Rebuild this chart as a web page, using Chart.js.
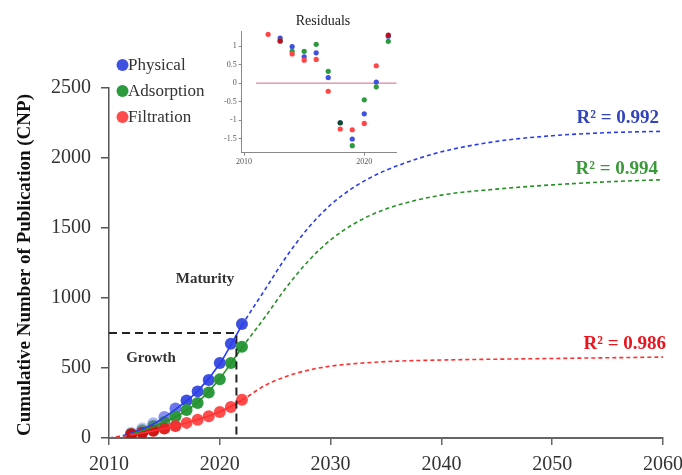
<!DOCTYPE html>
<html>
<head>
<meta charset="utf-8">
<script src="https://cdn.jsdelivr.net/npm/chart.js@4"></script>
<style>
  body { margin: 0; background: #fff; }
  #main { position: absolute; left: 0; top: 0; width: 682px; height: 475px; }
  #inset { position: absolute; left: 222px; top: 0; width: 185px; height: 170px; }
</style>
</head>
<body>
<div id="main"><canvas id="myChart"></canvas></div>
<div id="inset"><canvas id="myChart2"></canvas></div>
<script>
// observed data
const years = [2012, 2013, 2014, 2015, 2016, 2017, 2018, 2019, 2020, 2021, 2022];
const physical = [40, 70, 105, 150, 210, 268, 333, 415, 536, 673, 814];
const adsorption = [30, 55, 85, 115, 155, 200, 250, 325, 420, 535, 652];
const filtration = [26, 38, 52, 68, 86, 108, 130, 155, 186, 222, 273];

// fitted curves
const fitYears = [2010, 2011, 2012, 2014, 2016, 2018, 2020, 2022, 2024, 2026, 2028, 2030, 2032, 2034, 2036, 2040, 2045, 2050, 2055, 2060];
const physicalFit = [0, 12, 35, 100, 205, 335, 530, 805, 1050, 1294, 1502, 1666, 1786, 1876, 1944, 2044, 2119, 2159, 2181, 2191];
const adsorptionFit = [0, 8, 26, 80, 150, 255, 425, 645, 855, 1075, 1265, 1415, 1525, 1605, 1662, 1735, 1778, 1808, 1830, 1845];
const filtrationFit = [0, 10, 22, 50, 86, 132, 188, 270, 372, 440, 485, 513, 530, 541, 549, 557, 563, 568, 573, 578];

// growth / maturity box
const boxX = [2010, 2021.5, 2021.5];
const boxY = [750, 750, 0];

// tick labels
const xTicks = [2010, 2020, 2030, 2040, 2050, 2060];
const yTicks = [0, 500, 1000, 1500, 2000, 2500];

// residuals inset
const resYears = [2012, 2013, 2014, 2015, 2016, 2017, 2018, 2019, 2020, 2021, 2022];
const resPhysical = [null, 1.22, 0.99, 0.71, 0.82, 0.15, -1.07, -1.51, -0.83, 0.03, 1.27];
const resAdsorption = [null, 1.14, 0.86, 0.86, 1.05, 0.32, -1.07, -1.69, -0.45, -0.10, 1.13];
const resFiltration = [1.32, 1.14, 0.79, 0.62, 0.64, -0.22, -1.24, -1.26, -1.09, 0.47, 1.30];
const resXTicks = [2010, 2020];
const resYTicks = [-1.5, -1, -0.5, 0, 0.5, 1];

const serif = '"Liberation Serif", "Times New Roman", serif';
const toXY = (xs, ys) => xs.map((x, i) => ({ x: x, y: ys[i] }));
const dashOutside = (ctx) => (ctx.p0.parsed.x >= 2022 || ctx.p1.parsed.x <= 2012) ? [4, 3] : undefined;

function fitLine(label, ys, color, order) {
  return {
    label: label,
    data: toXY(fitYears, ys),
    showLine: true,
    borderColor: color,
    borderWidth: 1.6,
    pointRadius: 0,
    cubicInterpolationMode: 'monotone',
    segment: { borderDash: dashOutside },
    order: order,
  };
}

function pointSet(label, ys, colors, order) {
  return {
    label: label,
    data: toXY(years, ys),
    backgroundColor: colors,
    borderWidth: 0,
    pointRadius: 6,
    order: order,
  };
}

const bluePts = ['rgba(110,120,240,0.35)', 'rgba(110,120,240,0.4)', 'rgba(90,105,235,0.5)', 'rgba(70,85,230,0.65)', 'rgba(70,85,230,0.8)',
  '#3f51e0', '#3f51e0', '#3f51e0', '#3f51e0', '#3f51e0', '#3f51e0'];
const greenPts = ['rgba(30,110,60,0.55)', 'rgba(30,110,60,0.6)', 'rgba(35,120,60,0.7)', 'rgba(40,130,60,0.8)', '#2e9a40',
  '#2e9a40', '#2e9a40', '#2e9a40', '#2e9a40', '#2e9a40', '#2e9a40'];
const redPts = ['#c41010', '#c81414', '#d01818', '#e02424', '#ee3434',
  '#ff4d4d', '#ff4d4d', '#ff4d4d', '#ff4d4d', '#ff4d4d', '#ff4d4d'];

const mainText = {
  id: 'mainText',
  afterDraw(chart) {
    const c = chart.ctx;
    c.save();
    // y title
    c.translate(25, 265);
    c.rotate(-Math.PI / 2);
    c.font = 'bold 19px ' + serif;
    c.fillStyle = '#111';
    c.textAlign = 'center';
    c.textBaseline = 'middle';
    c.fillText('Cumulative Number of Publication (CNP)', 0, 0);
    c.restore();

    c.save();
    // legend
    const leg = [['Physical', '#3f51e0', 65], ['Adsorption', '#2e9a40', 91], ['Filtration', '#ff4d4d', 117]];
    c.font = '17px ' + serif;
    c.textBaseline = 'middle';
    leg.forEach(l => {
      c.fillStyle = l[1];
      c.beginPath();
      c.arc(122.5, l[2], 6, 0, Math.PI * 2);
      c.fill();
      c.fillStyle = '#333';
      c.fillText(l[0], 128, l[2] + 1);
    });

    // phase labels
    c.fillStyle = '#333';
    c.textAlign = 'center';
    c.font = 'bold 15px ' + serif;
    c.fillText('Maturity', 205, 279);
    c.fillText('Growth', 151, 358);

    // R2 labels
    c.textAlign = 'right';
    c.font = 'bold 19px ' + serif;
    c.fillStyle = '#3344bb';
    c.fillText('R² = 0.992', 659, 118);
    c.fillStyle = '#3a9a3a';
    c.fillText('R² = 0.994', 658, 169);
    c.fillStyle = '#e8141e';
    c.fillText('R² = 0.986', 666, 344);
    c.restore();
  }
};

new Chart(document.getElementById('myChart'), {
  type: 'scatter',
  data: {
    datasets: [
      {
        label: 'box',
        data: toXY(boxX, boxY),
        showLine: true,
        borderColor: '#222',
        borderWidth: 2,
        borderDash: [8, 5],
        pointRadius: 0,
        order: 0,
      },
      fitLine('Filtration fit', filtrationFit, '#ff3030', 1),
      fitLine('Adsorption fit', adsorptionFit, '#279027', 2),
      fitLine('Physical fit', physicalFit, '#2a3cf0', 3),
      pointSet('Filtration', filtration, redPts, 4),
      pointSet('Adsorption', adsorption, greenPts, 5),
      pointSet('Physical', physical, bluePts, 6),
    ],
  },
  options: {
    responsive: true,
    maintainAspectRatio: false,
    animation: false,
    layout: { padding: { top: 88, right: 19, left: 0, bottom: 0 } },
    plugins: {
      legend: { display: false },
      tooltip: { enabled: false },
    },
    scales: {
      x: {
        type: 'linear',
        min: 2010,
        max: 2060,
        afterBuildTicks: (s) => { s.ticks = xTicks.map(v => ({ value: v })); },
        afterFit: (s) => { s.height = 37; s.paddingRight = 0; s.paddingLeft = 0; },
        ticks: { callback: (v) => String(v), font: { family: serif, size: 20 }, color: '#333', padding: 8, maxRotation: 0 },
        grid: { drawOnChartArea: false, tickLength: 7, color: '#666', lineWidth: 1.5 },
        border: { color: '#666', width: 2 },
      },
      y: {
        min: 0,
        max: 2500,
        afterBuildTicks: (s) => { s.ticks = yTicks.map(v => ({ value: v })); },
        afterFit: (s) => { s.width = 109; },
        ticks: { callback: (v) => String(v), font: { family: serif, size: 20 }, color: '#333', padding: 10 },
        grid: { drawOnChartArea: false, tickLength: 8, color: '#555', lineWidth: 1.5 },
        border: { color: '#555', width: 1.5 },
      },
    },
  },
  plugins: [mainText],
});

// Residuals inset
const insetText = {
  id: 'insetText',
  afterDraw(chart) {
    const c = chart.ctx;
    c.save();
    c.font = '14px ' + serif;
    c.fillStyle = '#222';
    c.textAlign = 'center';
    c.textBaseline = 'middle';
    c.fillText('Residuals', 101, 21);
    c.restore();
  }
};

function resSet(label, ys, colors, order) {
  return {
    label: label,
    data: toXY(resYears, ys),
    backgroundColor: colors,
    borderWidth: 0,
    pointRadius: 2.6,
    order: order,
  };
}

new Chart(document.getElementById('myChart2'), {
  type: 'scatter',
  data: {
    datasets: [
      {
        label: 'zero',
        data: [{ x: 2011, y: 0 }, { x: 2022.7, y: 0 }],
        showLine: true,
        borderColor: 'rgba(200,80,110,0.85)',
        borderWidth: 1,
        pointRadius: 0,
        order: 3,
      },
      resSet('Filtration', resFiltration, ['#ff4545', '#b81020', '#ff4545', '#ff4545', '#ff4545', '#ff4545', '#ff4545', '#ff4545', '#ff4545', '#ff4545', '#b81020'], 0),
      resSet('Adsorption', resAdsorption, ['#2e9a40', '#2e9a40', '#2e9a40', '#2e9a40', '#2e9a40', '#2e9a40', '#0f4a2a', '#2e9a40', '#2e9a40', '#2e9a40', '#2e9a40'], 1),
      resSet('Physical', resPhysical, '#3f51e0', 2),
    ],
  },
  options: {
    responsive: true,
    maintainAspectRatio: false,
    animation: false,
    layout: { padding: { top: 31.7, right: 10.3, left: 0, bottom: 0 } },
    plugins: {
      legend: { display: false },
      tooltip: { enabled: false },
    },
    scales: {
      x: {
        type: 'linear',
        min: 2009.8,
        max: 2022.7,
        afterBuildTicks: (s) => { s.ticks = resXTicks.map(v => ({ value: v })); },
        afterFit: (s) => { s.height = 17.3; s.paddingRight = 0; s.paddingLeft = 0; },
        ticks: { callback: (v) => String(v), font: { family: serif, size: 8 }, color: '#555', padding: 1, maxRotation: 0 },
        grid: { drawOnChartArea: false, tickLength: 3, color: '#888' },
        border: { color: '#888', width: 1 },
      },
      y: {
        min: -1.88,
        max: 1.39,
        afterBuildTicks: (s) => { s.ticks = resYTicks.map(v => ({ value: v })); },
        afterFit: (s) => { s.width = 19.7; },
        ticks: { callback: (v) => String(v), font: { family: serif, size: 8 }, color: '#555', padding: 2 },
        grid: { drawOnChartArea: false, tickLength: 3, color: '#888' },
        border: { color: '#888', width: 1 },
      },
    },
  },
  plugins: [insetText],
});
</script>
</body>
</html>
